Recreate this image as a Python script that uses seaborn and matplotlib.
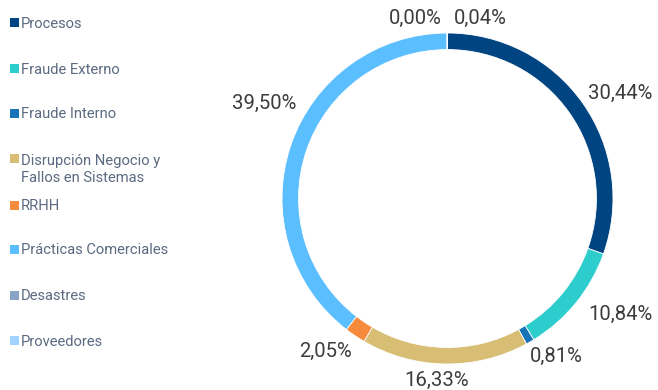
import matplotlib
matplotlib.use("Agg")
import matplotlib.pyplot as plt
from matplotlib.patches import Rectangle
import numpy as np
import seaborn as sns

# Operational-risk loss distribution by category (%)
categories = [
    "Procesos",
    "Fraude Externo",
    "Fraude Interno",
    "Disrupción Negocio y\nFallos en Sistemas",
    "RRHH",
    "Prácticas Comerciales",
    "Desastres",
    "Proveedores",
]
shares = [30.44, 10.84, 0.81, 16.33, 2.05, 39.50, 0.00, 0.04]
value_labels = ["30,44%", "10,84%", "0,81%", "16,33%", "2,05%", "39,50%", "0,00%", "0,04%"]
colors = ["#004481", "#2DCCCD", "#1973B8", "#D8BE75", "#F78B3D", "#5BBEFF", "#8AA4C8", "#A0D3FF"]

sns.set_theme(style="white")
plt.rcParams["font.family"] = ["Roboto", "DejaVu Sans"]

W, H = 658, 390
fig = plt.figure(figsize=(W / 100, H / 100), dpi=100)
fig.patch.set_facecolor("white")

# ring centre and radius in pixels
cx, cy, R = 447.5, 198.5, 165.5
ax = fig.add_axes([(cx - R) / W, (H - cy - R) / H, 2 * R / W, 2 * R / H])

ring = 0.1
ax.pie(shares, colors=colors, startangle=90, counterclock=False, radius=1.0,
       wedgeprops=dict(width=ring, edgecolor="white", linewidth=0.6))
ax.set_xlim(-1, 1)
ax.set_ylim(-1, 1)
ax.set_aspect("equal")
ax.axis("off")

# label anchors: (angle clockwise from top in degrees, radius, horizontal alignment)
label_anchor = [
    (53.1, 1.062, "left"),
    (129.4, 1.099, "left"),
    (152.4, 1.074, "left"),
    (183.3, 1.10, "center"),
    (211.9, 1.09, "right"),
    (302.0, 1.08, "right"),
    (349.8, 1.108, "center"),
    (10.2, 1.108, "center"),
]
for txt, (ang, r, ha) in zip(value_labels, label_anchor):
    a = np.deg2rad(ang)
    ax.text(r * np.sin(a), r * np.cos(a), txt, ha=ha, va="center",
            fontsize=14.6, color="#3C3C3C", fontweight="normal")

# legend drawn as coloured squares with labels
legend_y = [22, 68, 113, 158, 205, 249, 295, 340]
line_gap = 18
for name, col, yc in zip(categories, colors, legend_y):
    fig.patches.append(Rectangle((10 / W, 1 - (yc + 4.5) / H), 8.5 / W, 8.5 / H,
                                 transform=fig.transFigure, facecolor=col,
                                 edgecolor="none"))
    extra = line_gap * name.count("\n")
    fig.text(21 / W, 1 - (yc + 5.5 + extra) / H, name, ha="left", va="baseline",
             fontsize=10.6, color="#5B6A80", linespacing=1.2)

fig.savefig("out.png", dpi=100, facecolor="white")
